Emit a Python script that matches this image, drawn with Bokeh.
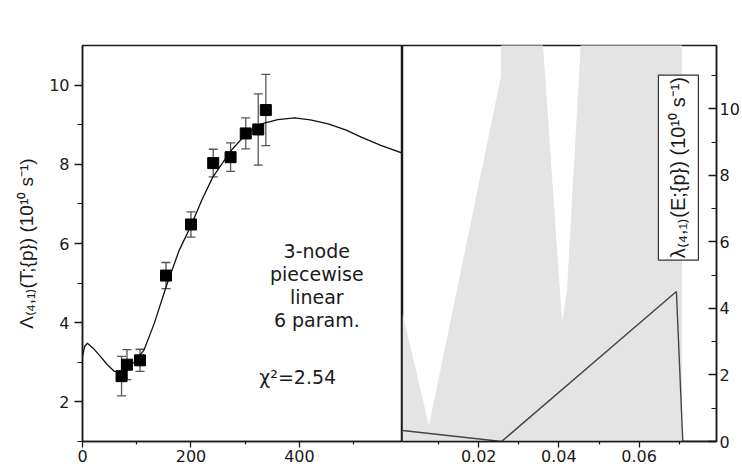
import numpy as np
from bokeh.plotting import figure
from bokeh.models import Range1d, FixedTicker, Whisker, TeeHead, ColumnDataSource, Label
from bokeh.layouts import row
from bokeh.embed import file_html
from bokeh.resources import INLINE
from bokeh.core.properties import value

# ---------------- data ----------------
# left panel: measured points with error bars
T_points = [72, 82, 106, 154, 200, 241, 273, 301, 324, 338]
Lambda_points = [2.65, 2.94, 3.05, 5.19, 6.48, 8.03, 8.18, 8.78, 8.88, 9.37]
Lambda_err = [0.50, 0.38, 0.28, 0.33, 0.32, 0.35, 0.36, 0.39, 0.90, 0.90]

# left panel: fitted curve
fit_T = [0, 4, 9, 20, 33, 45, 58, 70, 80, 95, 113, 132, 154, 178, 200, 220,
         240, 274, 302, 330, 360, 391, 420, 453, 485, 515, 550, 590]
fit_Lambda = [3.15, 3.40, 3.48, 3.35, 3.15, 2.95, 2.78, 2.74, 2.80, 3.00, 3.30,
              3.97, 4.90, 5.82, 6.45, 7.10, 7.67, 8.35, 8.77, 9.02, 9.13, 9.17,
              9.12, 9.02, 8.87, 8.68, 8.48, 8.28]

# right panel: uncertainty band (upper bound; lower bound is 0)
band_E = [0.001, 0.0076, 0.0256, 0.0256, 0.0357, 0.0408, 0.0420, 0.0457, 0.0707, 0.0707]
band_hi = [3.85, 0.48, 11.0, 12.5, 12.5, 3.58, 4.53, 12.5, 12.5, 0.0]
band_lo = [0.0] * len(band_E)

# right panel: best-fit piecewise linear function
fit_E = [0.001, 0.0257, 0.0693, 0.0709, 0.0793]
fit_lambda = [0.33, 0.0, 4.51, 0.0, 0.0]

# ticks
left_x_ticks = [0, 200, 400]
left_x_minor = [100, 300, 500]
left_y_ticks = [2, 4, 6, 8, 10]
left_y_minor = [1, 3, 5, 7, 9]
right_x_ticks = [0.02, 0.04, 0.06]
right_x_minor = [0.01, 0.03, 0.05, 0.07]
right_y_ticks = [0, 2, 4, 6, 8, 10]
right_y_minor = [1, 3, 5, 7, 9, 11]

# texts
left_label = "Λ₍₄,₁₎(T;{p}) (10¹⁰ s⁻¹)"
right_label = "λ₍₄,₁₎(E;{p}) (10¹⁰ s⁻¹)"
note_lines = ["3-node", "piecewise", "linear", "6 param."]
note_y = [5.82, 5.24, 4.64, 4.08]
chi_text = "χ²=2.54"

FONT = "DejaVu Sans"
LABEL_FONT = "Liberation Sans"
INK = "#1a1a1a"


def style_axis(ax, tick_out, minor_out, tick_in=0, minor_in=0, standoff=3):
    ax.axis_line_color = INK
    ax.axis_line_width = 1.5
    ax.major_tick_line_color = INK
    ax.major_tick_line_width = 1.3
    ax.minor_tick_line_color = INK
    ax.minor_tick_line_width = 1.2
    ax.major_tick_out = tick_out
    ax.major_tick_in = tick_in
    ax.minor_tick_out = minor_out
    ax.minor_tick_in = minor_in
    ax.major_label_text_font = FONT
    ax.major_label_text_font_size = "16px"
    ax.major_label_text_color = INK
    ax.major_label_standoff = standoff


# ---------------- left panel ----------------
p1 = figure(width=402, height=467, x_range=Range1d(0, 590), y_range=Range1d(1, 11),
            output_backend="svg", toolbar_location=None,
            min_border_left=82, min_border_right=0, min_border_top=45, min_border_bottom=26)
p1.grid.visible = False
p1.outline_line_color = INK
p1.outline_line_width = 1.5
p1.background_fill_color = "white"
p1.border_fill_color = "white"

p1.xaxis.ticker = FixedTicker(ticks=left_x_ticks, minor_ticks=left_x_minor)
p1.yaxis.ticker = FixedTicker(ticks=left_y_ticks, minor_ticks=left_y_minor)
style_axis(p1.xaxis[0], 6, 3, standoff=2)
style_axis(p1.yaxis[0], 8, 5, standoff=5)
p1.yaxis.axis_label = left_label
p1.yaxis.axis_label_text_font = LABEL_FONT
p1.yaxis.axis_label_text_font_size = "19px"
p1.yaxis.axis_label_text_font_style = "normal"
p1.yaxis.axis_label_text_color = INK
p1.yaxis.axis_label_standoff = 9

p1.line(fit_T, fit_Lambda, line_color="#111111", line_width=1.3)

err_src = ColumnDataSource(dict(
    x=T_points,
    lo=[v - e for v, e in zip(Lambda_points, Lambda_err)],
    hi=[v + e for v, e in zip(Lambda_points, Lambda_err)],
))
whisk = Whisker(source=err_src, base="x", lower="lo", upper="hi",
                line_color="#555555", line_width=1.3,
                upper_head=TeeHead(size=9, line_color="#555555", line_width=1.3),
                lower_head=TeeHead(size=9, line_color="#555555", line_width=1.3))
whisk.level = "underlay"
p1.add_layout(whisk)

p1.scatter(T_points, Lambda_points, marker="square", size=11,
           fill_color="black", line_color="black")

p1.text(x=[432] * len(note_lines), y=note_y, text=note_lines,
        text_font=value(FONT), text_font_size="19px", text_color=INK,
        text_align="center", text_baseline="middle")
p1.text(x=[326], y=[2.62], text=[chi_text],
        text_font=value(FONT), text_font_size="19px", text_color=INK,
        text_align="left", text_baseline="middle")

# ---------------- right panel ----------------
p2 = figure(width=340, height=467, x_range=Range1d(0.001, 0.0793), y_range=Range1d(0, 11.9),
            output_backend="svg", toolbar_location=None, y_axis_location="right",
            min_border_left=0, min_border_right=22, min_border_top=45, min_border_bottom=26)
p2.grid.visible = False
p2.outline_line_color = INK
p2.outline_line_width = 1.5
p2.background_fill_color = "white"
p2.border_fill_color = "white"

p2.xaxis.ticker = FixedTicker(ticks=right_x_ticks, minor_ticks=right_x_minor)
p2.yaxis.ticker = FixedTicker(ticks=right_y_ticks, minor_ticks=right_y_minor)
style_axis(p2.xaxis[0], 6, 3, standoff=2)
style_axis(p2.yaxis[0], 0, 0, tick_in=8, minor_in=5, standoff=3)

p2.varea(x=band_E, y1=band_lo, y2=band_hi, fill_color="#e4e4e4", fill_alpha=1.0)
p2.line(fit_E, fit_lambda, line_color="#444444", line_width=1.4)

lab = Label(x=0.0698, y=8.23, text=right_label, angle=90, angle_units="deg",
            text_font=LABEL_FONT, text_font_size="20px", text_color=INK,
            text_align="center", text_baseline="middle",
            background_fill_color="white", background_fill_alpha=1.0,
            border_line_color="#333333", border_line_width=1.2,
            padding=dict(x=2, y=9))
p2.add_layout(lab)

layout = row(p1, p2)
open("out.html", "w").write(file_html(layout, INLINE))
